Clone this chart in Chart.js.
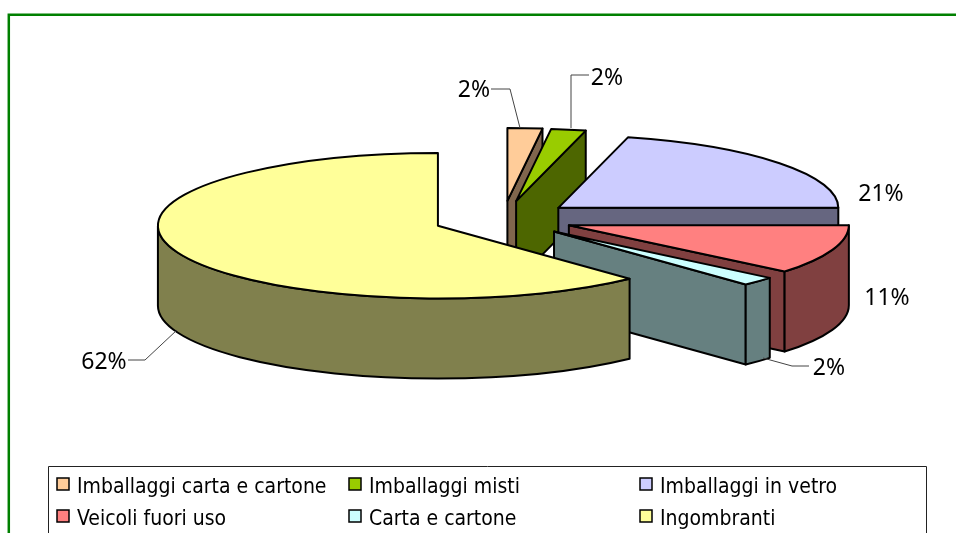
<!DOCTYPE html>
<html><head><meta charset="utf-8">
<style>html,body{margin:0;padding:0;background:#fff;overflow:hidden}canvas{display:block}</style>
<script src="https://cdn.jsdelivr.net/npm/chart.js@4"></script>
</head><body><canvas id="c" width="956" height="533"></canvas>
<script>
const categories=["Imballaggi carta e cartone","Imballaggi misti","Imballaggi in vetro","Veicoli fuori uso","Carta e cartone","Ingombranti"];
const values=[2,2,21,11,2,62];
const topColors=["#FFCC99","#99CC00","#CCCCFF","#FF8080","#CCFFFF","#FFFF99"];
const wallColors=["#80664D","#4D6600","#666680","#804040","#668080","#80804D"];
const FONT='21px "DejaVu Sans Condensed","DejaVu Sans",sans-serif';
const LABELFONT='23px "Noto Sans",sans-serif';
const SQUASH=0.26,DEPTH=80,EXPLODE=70,RADIUS=280,LW=2;
// leader polylines + label anchor for each slice
const leaders=[
 {text:[474,90],line:[[491,89],[510,89],[520,128]]},
 {text:[607,78],line:[[589,75],[571,75],[571,128]]},
 {text:[881,194],line:[]},
 {text:[887,298],line:[]},
 {text:[829,368],line:[[809,366],[792,366],[763,358]]},
 {text:[104,362],line:[[128,360],[145,360],[177,330]]}
];
const legendCols=[57,349,640],legendRows=[478,510];

const pie3d={id:'pie3d',
 beforeDatasetDraw(chart,args){
  const ctx=chart.ctx,arcs=args.meta.data;
  arcs.forEach((arc,i)=>{
   const mid=(arc.startAngle+arc.endAngle)/2;
   const x=arc.x+Math.cos(mid)*EXPLODE, y=arc.y+Math.sin(mid)*EXPLODE*SQUASH;
   const R=arc.outerRadius,Ry=R*SQUASH,s=arc.startAngle,e=arc.endAngle;
   const px=a=>x+Math.cos(a)*R, py=a=>y+Math.sin(a)*Ry;
   ctx.save();ctx.lineWidth=LW;ctx.strokeStyle='#000';ctx.lineJoin='round';ctx.fillStyle=wallColors[i];
   const radial=a=>{ctx.beginPath();ctx.moveTo(x,y);ctx.lineTo(px(a),py(a));ctx.lineTo(px(a),py(a)+DEPTH);ctx.lineTo(x,y+DEPTH);ctx.closePath();ctx.fill();ctx.stroke();};
   if(Math.cos(s)<-1e-6)radial(s);
   if(Math.cos(e)>1e-6)radial(e);
   const a0=Math.max(s,0),a1=Math.min(e,Math.PI);
   if(a1>a0){ctx.beginPath();ctx.ellipse(x,y,R,Ry,0,a0,a1);ctx.lineTo(px(a1),py(a1)+DEPTH);ctx.ellipse(x,y+DEPTH,R,Ry,0,a1,a0,true);ctx.closePath();ctx.fill();ctx.stroke();}
   // top face: library arc, squashed
   ctx.save();ctx.translate(x,y);ctx.scale(1,SQUASH);ctx.translate(-arc.x,-arc.y);arc.draw(ctx);ctx.restore();
   ctx.beginPath();ctx.moveTo(x,y);ctx.ellipse(x,y,R,Ry,0,s,e);ctx.closePath();ctx.stroke();
   ctx.restore();
  });
  return false;
 },
 afterDraw(chart){
  const ctx=chart.ctx;ctx.save();
  // outer frame
  ctx.strokeStyle='#008000';ctx.lineWidth=2.5;ctx.beginPath();ctx.moveTo(8.8,540);ctx.lineTo(8.8,14.7);ctx.lineTo(960,14.7);ctx.stroke();
  // leaders & labels
  ctx.font=LABELFONT;ctx.textAlign='center';ctx.textBaseline='middle';
  values.forEach((v,i)=>{
   const l=leaders[i];
   if(l.line.length){ctx.strokeStyle='#444';ctx.lineWidth=1;ctx.beginPath();l.line.forEach((p,j)=>j?ctx.lineTo(p[0],p[1]):ctx.moveTo(p[0],p[1]));ctx.stroke();}
   ctx.fillStyle='#000';ctx.fillText(v+'%',l.text[0],l.text[1]);
  });
  // legend
  ctx.font=FONT;
  ctx.strokeStyle='#222';ctx.lineWidth=1;ctx.fillStyle='#fff';
  ctx.beginPath();ctx.rect(48.5,466.5,878,80);ctx.fill();ctx.stroke();
  ctx.textAlign='left';ctx.textBaseline='alphabetic';
  categories.forEach((c,i)=>{
   const cx=legendCols[i%3],cy=legendRows[Math.floor(i/3)];
   ctx.fillStyle=topColors[i];ctx.fillRect(cx,cy,12,12);
   ctx.strokeStyle='#000';ctx.lineWidth=1.5;ctx.strokeRect(cx,cy,12,12);
   ctx.fillStyle='#000';ctx.fillText(c,cx+20,cy+15);
  });
  ctx.restore();
 }
};
new Chart(document.getElementById('c'),{type:'pie',
 data:{labels:categories,datasets:[{data:values,backgroundColor:topColors,borderWidth:0}]},
 options:{responsive:false,animation:false,radius:RADIUS,
  layout:{padding:{left:50,bottom:95}},
  plugins:{legend:{display:false},tooltip:{enabled:false}}},
 plugins:[pie3d]});
</script></body></html>
